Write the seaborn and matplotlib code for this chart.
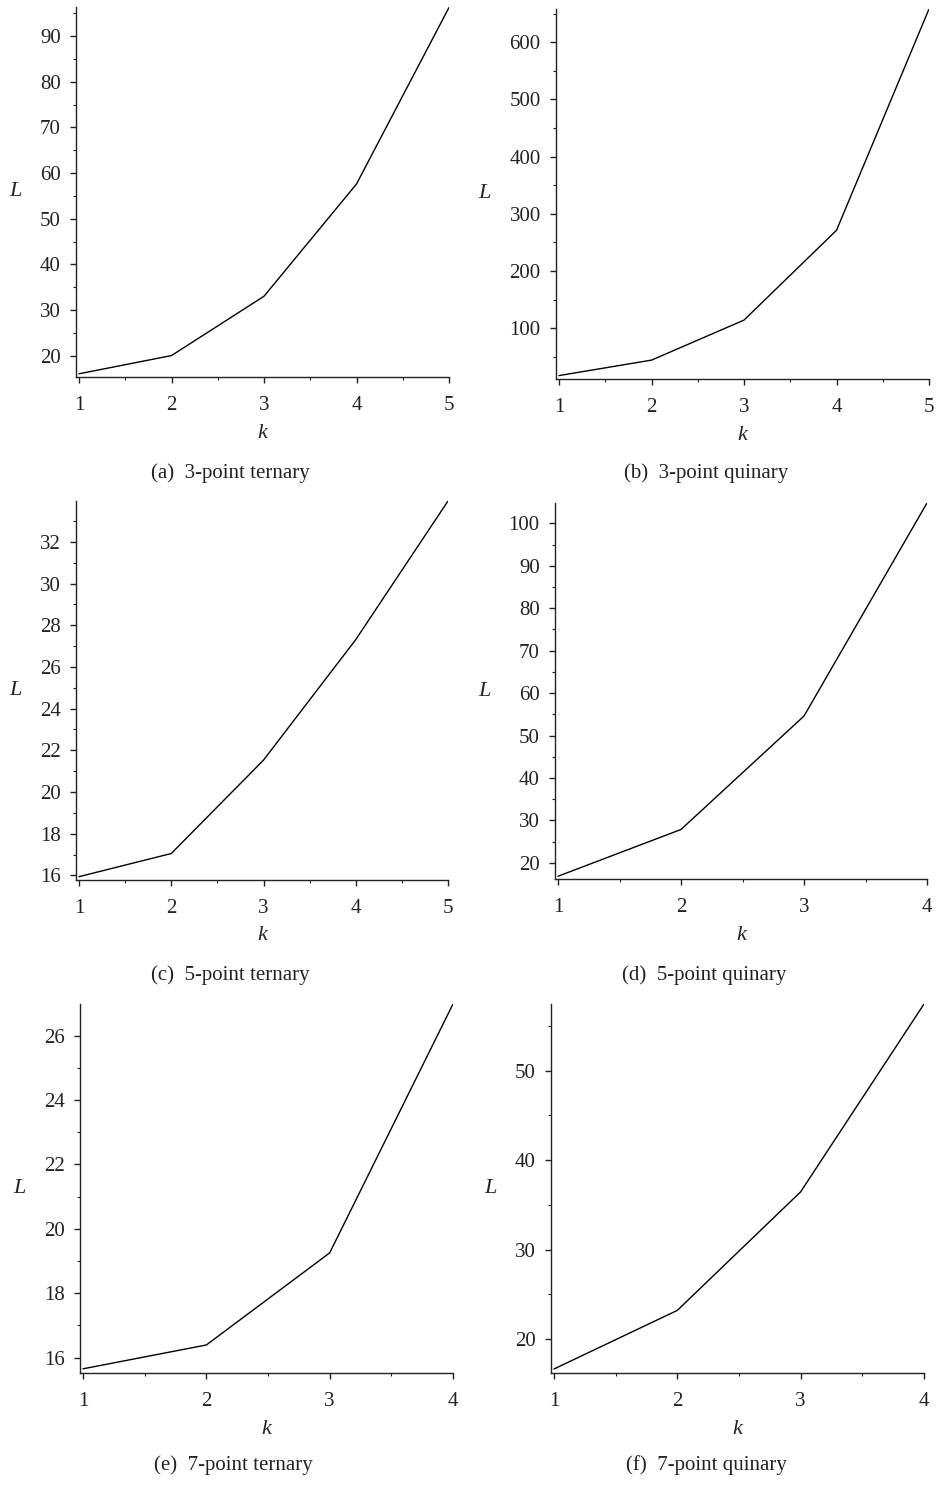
import numpy as np
import pandas as pd
import matplotlib
matplotlib.use("Agg")
import matplotlib.pyplot as plt
from matplotlib.ticker import MultipleLocator
import seaborn as sns

sns.set_theme(style="ticks")
plt.rcParams["font.family"] = ["Liberation Serif", "DejaVu Serif"]

# values
k_five = [1, 2, 3, 4, 5]
k_four = [1, 2, 3, 4]
L_3pt_ternary = [16.0, 20.0, 33.0, 57.6, 96.3]
L_3pt_quinary = [17, 44, 114, 271, 658]
L_5pt_ternary = [15.94, 17.05, 21.53, 27.31, 33.96]
L_5pt_quinary = [16.85, 27.87, 54.6, 104.8]
L_7pt_ternary = [15.65, 16.39, 19.25, 26.98]
L_7pt_quinary = [16.65, 23.2, 36.45, 57.44]

captions = ["(a)  3-point ternary", "(b)  3-point quinary",
            "(c)  5-point ternary", "(d)  5-point quinary",
            "(e)  7-point ternary", "(f)  7-point quinary"]

W, H = 936, 1485
fig = plt.figure(figsize=(W / 100, H / 100), dpi=100)

# (k, L, axes box in px [left, top, right, bottom], ylim, major, minor, L-label x px, caption x/y px)
panels = [
    (k_five, L_3pt_ternary, (76, 7, 449, 377), (15.3, 96.4), 10, 5, 15, (230, 473)),
    (k_five, L_3pt_quinary, (556, 9, 929, 379), (11, 658), 100, 50, 484, (706, 473)),
    (k_five, L_5pt_ternary, (76, 501, 448, 880), (15.78, 33.96), 2, 1, 15, (230, 975)),
    (k_four, L_5pt_quinary, (555, 503, 927, 879), (16.2, 104.8), 10, 5, 484, (704, 975)),
    (k_four, L_7pt_ternary, (80, 1004, 453, 1373), (15.52, 26.98), 2, 1, 19, (233, 1465)),
    (k_four, L_7pt_quinary, (551, 1004, 924, 1373), (16.2, 57.44), 10, 5, 490, (706, 1465)),
]

for i, (ks, Ls, box, ylim, major, minor, lx, cap) in enumerate(panels):
    l, t, r, b = box
    ax = fig.add_axes([l / W, 1 - b / H, (r - l) / W, (b - t) / H])
    df = pd.DataFrame({"k": ks, "L": Ls})
    sns.lineplot(data=df, x="k", y="L", ax=ax, color="black", linewidth=1.0)

    kmax = ks[-1]
    ppu = (r - l - 3) / (kmax - 1)
    ax.set_xlim(1 - 3 / ppu, kmax)
    ax.set_ylim(*ylim)
    ax.xaxis.set_major_locator(MultipleLocator(1))
    ax.xaxis.set_minor_locator(MultipleLocator(0.5))
    ax.yaxis.set_major_locator(MultipleLocator(major))
    ax.yaxis.set_minor_locator(MultipleLocator(minor))
    ax.tick_params(which="major", direction="out", length=4, width=1.0,
                   labelsize=15, colors="#222222")
    ax.tick_params(which="minor", direction="out", length=2.5, width=0.8,
                   colors="#222222")
    ax.tick_params(axis="x", which="major", pad=10)
    ax.tick_params(axis="y", which="major", pad=7)
    for side in ["top", "right"]:
        ax.spines[side].set_visible(False)
    for side in ["left", "bottom"]:
        ax.spines[side].set_linewidth(1.0)
        ax.spines[side].set_color("#222222")

    ax.set_xlabel("k", fontsize=16, style="italic")
    ax.set_ylabel("L", fontsize=16, style="italic", rotation=0)
    ax.xaxis.set_label_coords(0.5, -56 / (b - t))
    ax.xaxis.label.set_verticalalignment("center")
    ax.yaxis.set_label_coords((lx - l) / (r - l), 0.5)
    ax.yaxis.label.set_verticalalignment("center")

    fig.text(cap[0] / W, 1 - cap[1] / H, captions[i], ha="center", va="center",
             fontsize=15, color="#222222")

fig.savefig("out.png", dpi=100)
